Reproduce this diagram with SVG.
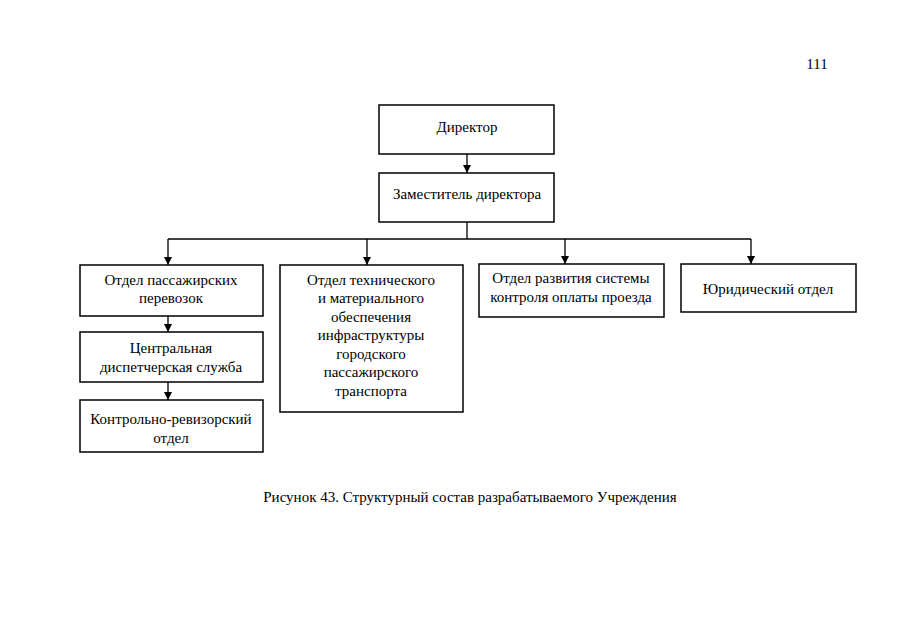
<svg xmlns="http://www.w3.org/2000/svg" width="905" height="640" viewBox="0 0 905 640">
<defs>
<marker id="ah" viewBox="0 0 10 10" refX="10" refY="5" markerWidth="8" markerHeight="8" markerUnits="userSpaceOnUse" orient="auto">
<path d="M0,0 L10,5 L0,10 z" fill="#000"/>
</marker>
<style>
.box{fill:#fff;stroke:#000;stroke-width:1.5}
.t{font-family:"Liberation Serif","Times New Roman",serif;font-size:15px;fill:#000;text-anchor:middle}
.c{fill:none;stroke:#000;stroke-width:1.3}
</style>
</defs>
<rect width="905" height="640" fill="#fff"/>
<text class="t" x="817" y="69">111</text>
<g id="connectors">
<line class="c" x1="467" y1="154" x2="467" y2="173" marker-end="url(#ah)"/>
<polyline class="c" points="467,222 467,239"/>
<line class="c" x1="168" y1="239" x2="751" y2="239"/>
<line class="c" x1="168" y1="239" x2="168" y2="265" marker-end="url(#ah)"/>
<line class="c" x1="367" y1="239" x2="367" y2="265" marker-end="url(#ah)"/>
<line class="c" x1="565" y1="239" x2="565" y2="264" marker-end="url(#ah)"/>
<line class="c" x1="751" y1="239" x2="751" y2="264" marker-end="url(#ah)"/>
<line class="c" x1="168" y1="316" x2="168" y2="332" marker-end="url(#ah)"/>
<line class="c" x1="168" y1="382" x2="168" y2="400" marker-end="url(#ah)"/>
</g>
<g id="director">
<rect class="box" x="379" y="105" width="175" height="49"/>
<text class="t" x="467" y="132">Директор</text>
</g>
<g id="deputy">
<rect class="box" x="379" y="173" width="175" height="49"/>
<text class="t" x="467" y="199">Заместитель директора</text>
</g>
<g id="passenger">
<rect class="box" x="80" y="265" width="183" height="51"/>
<text class="t" x="171" y="285">Отдел пассажирских</text>
<text class="t" x="171" y="303">перевозок</text>
</g>
<g id="dispatch">
<rect class="box" x="80" y="332" width="183" height="50"/>
<text class="t" x="171" y="353">Центральная</text>
<text class="t" x="171" y="372">диспетчерская служба</text>
</g>
<g id="control">
<rect class="box" x="80" y="400" width="183" height="52"/>
<text class="t" x="171" y="424">Контрольно-ревизорский</text>
<text class="t" x="171" y="443">отдел</text>
</g>
<g id="technical">
<rect class="box" x="280" y="265" width="183" height="147"/>
<text class="t" x="371" y="285">Отдел технического</text>
<text class="t" x="371" y="303">и материального</text>
<text class="t" x="371" y="322">обеспечения</text>
<text class="t" x="371" y="340">инфраструктуры</text>
<text class="t" x="371" y="359">городского</text>
<text class="t" x="371" y="377">пассажирского</text>
<text class="t" x="371" y="396">транспорта</text>
</g>
<g id="payment">
<rect class="box" x="479" y="264" width="185" height="53"/>
<text class="t" x="571" y="283">Отдел развития системы</text>
<text class="t" x="571" y="302">контроля оплаты проезда</text>
</g>
<g id="legal">
<rect class="box" x="681" y="264" width="175" height="48"/>
<text class="t" x="768" y="294">Юридический отдел</text>
</g>
<text class="t" x="470" y="502">Рисунок 43. Структурный состав разрабатываемого Учреждения</text>
</svg>
